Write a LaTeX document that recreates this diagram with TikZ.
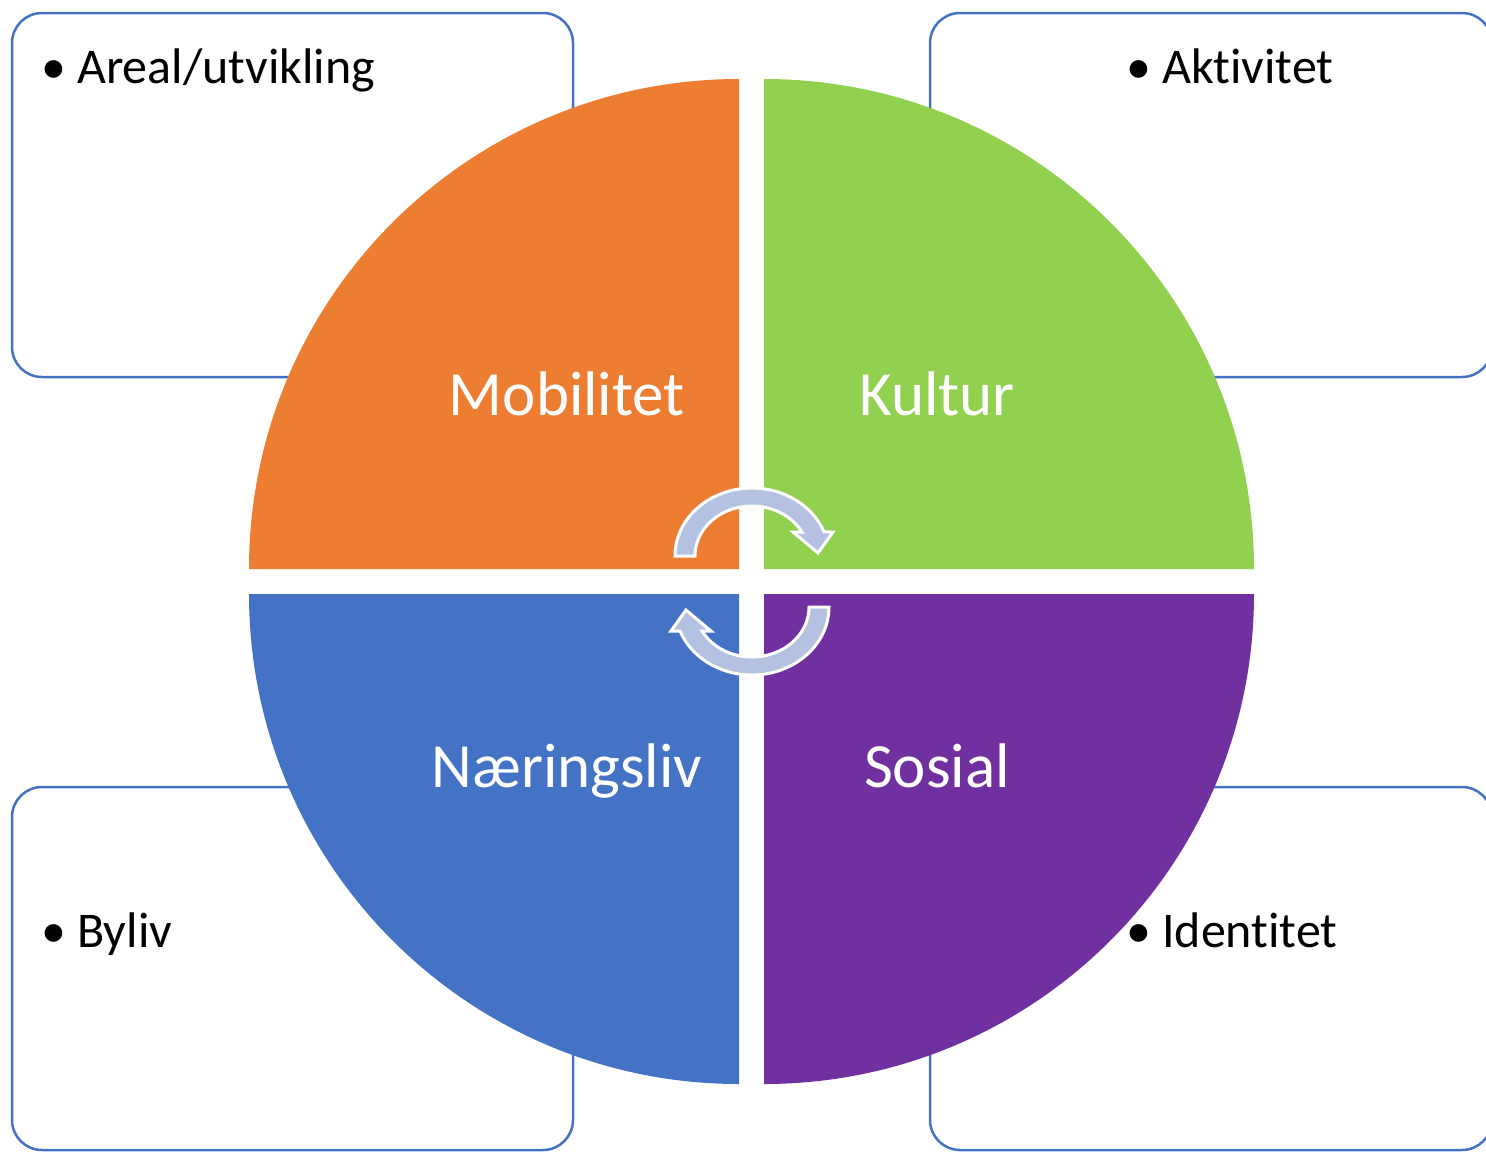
\documentclass[tikz,border=0pt]{standalone}
\usepackage{fontspec}
\setmainfont{Carlito}[Ligatures={NoCommon,NoContextual,NoRequired},Contextuals={NoAlternate}]
\definecolor{qorange}{HTML}{ED7D31}
\definecolor{qgreen}{HTML}{92D050}
\definecolor{qblue}{HTML}{4472C4}
\definecolor{qpurple}{HTML}{7030A0}
\definecolor{boxline}{HTML}{4472C4}
\definecolor{arrowfill}{HTML}{B4C1E1}
\begin{document}
\begin{tikzpicture}[x=1pt,y=-1pt,
  infobox/.style={draw=boxline,line width=2.5pt,fill=white,rounded corners=30pt},
  qlabel/.style={text=white,font=\fontsize{63}{70}\selectfont,anchor=base,inner sep=0pt},
  blabel/.style={text=black,font=\fontsize{50}{60}\selectfont,anchor=base west,inner sep=0pt},
  cyclearrow/.style={fill=arrowfill,draw=white,line width=3pt,line join=miter}]
\useasboundingbox (0,0) rectangle (1486,1152);
% boxes
\draw[infobox] (12,13) rectangle (573,377);
\draw[infobox] (930,13) rectangle (1492,377);
\draw[infobox] (12,787) rectangle (573,1150);
\draw[infobox] (930,787) rectangle (1492,1150);
% quadrants
\fill[qorange] (739,569) -- (249,569) arc[start angle=180,end angle=270,radius=490] -- cycle;
\fill[qgreen] (764,569) -- (764,79) arc[start angle=270,end angle=360,radius=490] -- cycle;
\fill[qpurple] (764,594) -- (1254,594) arc[start angle=0,end angle=90,radius=490] -- cycle;
\fill[qblue] (739,594) -- (739,1084) arc[start angle=90,end angle=180,radius=490] -- cycle;
% labels
\node[qlabel] (mob) at (567,415) {Mobilitet};
\node[qlabel] (kul) at (937,415) {Kultur};
\node[qlabel] (nae) at (567,787) {Næringsliv};
\node[qlabel] (sos) at (937,787) {Sosial};
% bullets
\node[blabel] (areal) at (41,83) {\makebox[36pt][l]{•}Areal/utvikling};
\node[blabel] (akt) at (1126,83) {\makebox[36pt][l]{•}Aktivitet};
\node[blabel] (byl) at (41,947) {\makebox[36pt][l]{•}Byliv};
\node[blabel] (ide) at (1126,947) {\makebox[36pt][l]{•}Identitet};
% cycle arrows
\path[cyclearrow] (675,556) arc[start angle=180,end angle=339.3,x radius=77,y radius=68]
  -- (833,532) -- (818,553) -- (793,532) -- (802,532)
  arc[start angle=331.31,end angle=180,x radius=57,y radius=50] -- cycle;
\begin{scope}[rotate around={180:(752,581.5)}]
\path[cyclearrow] (675,556) arc[start angle=180,end angle=339.3,x radius=77,y radius=68]
  -- (833,532) -- (818,553) -- (793,532) -- (802,532)
  arc[start angle=331.31,end angle=180,x radius=57,y radius=50] -- cycle;
\end{scope}
\end{tikzpicture}
\end{document}
